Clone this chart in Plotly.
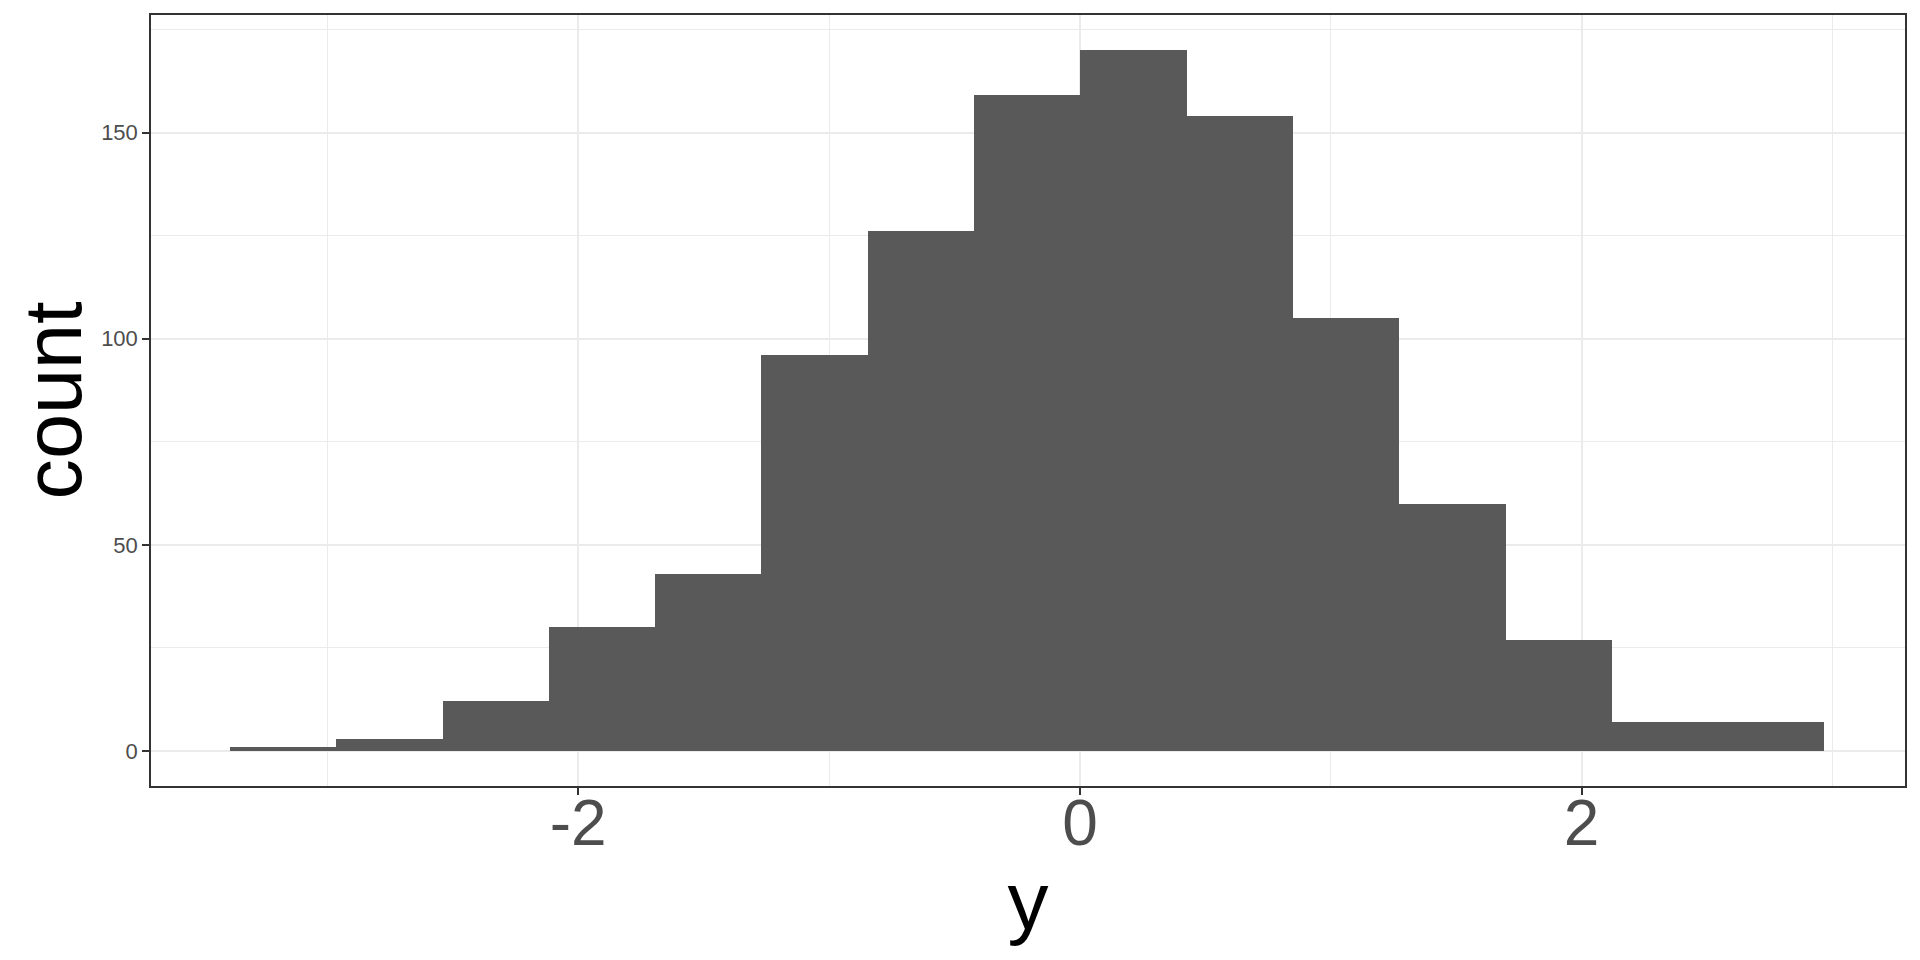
import plotly.graph_objects as go

# Histogram of y (15 bins)
bin_left_edges = [-3.388, -2.964, -2.541, -2.117, -1.693, -1.270, -0.846, -0.422,
                  0.002, 0.425, 0.849, 1.273, 1.696, 2.120, 2.544]
bin_width = 0.4237
counts = [1, 3, 12, 30, 43, 96, 126, 159, 170, 154, 105, 60, 27, 7, 7]

x_tick_vals = [-2, 0, 2]
x_tick_text = ["-2", "0", "2"]
y_tick_vals = [0, 50, 100, 150]
y_tick_text = ["0", "50", "100", "150"]

fig = go.Figure()
fig.add_trace(go.Bar(
    x=bin_left_edges,
    y=counts,
    width=[bin_width] * len(counts),
    offset=0,
    marker=dict(color="#595959", line=dict(width=0)),
    hoverinfo="x+y",
    showlegend=False,
))

font_family = "Liberation Sans, Arial, sans-serif"

fig.update_layout(
    width=1920,
    height=960,
    margin=dict(l=143, r=23, t=7, b=182),
    paper_bgcolor="white",
    plot_bgcolor="white",
    bargap=0,
    font=dict(family=font_family),
    xaxis=dict(
        range=[-3.703, 3.289],
        tickmode="array",
        tickvals=x_tick_vals,
        ticktext=x_tick_text,
        tickfont=dict(size=64, color="#4D4D4D", family=font_family),
        ticklabelstandoff=-27,
        ticks="outside",
        ticklen=7,
        tickwidth=1.5,
        tickcolor="#333333",
        showgrid=True,
        gridcolor="#EBEBEB",
        gridwidth=1.8,
        minor=dict(tickvals=[-3, -1, 1, 3], showgrid=True, gridcolor="#EBEBEB", gridwidth=1.0, ticks=""),
        showline=True,
        linecolor="#333333",
        linewidth=1.5,
        mirror=True,
        zeroline=False,
        title=dict(text="y", font=dict(size=82, color="black", family=font_family), standoff=14),
        automargin=False,
    ),
    yaxis=dict(
        range=[-8.5, 178.5],
        tickmode="array",
        tickvals=y_tick_vals,
        ticktext=y_tick_text,
        tickfont=dict(size=22, color="#4D4D4D", family=font_family),
        ticks="outside",
        ticklen=7,
        tickwidth=1.5,
        tickcolor="#333333",
        showgrid=True,
        gridcolor="#EBEBEB",
        gridwidth=1.8,
        minor=dict(tickvals=[25, 75, 125, 175], showgrid=True, gridcolor="#EBEBEB", gridwidth=1.0, ticks=""),
        showline=True,
        linecolor="#333333",
        linewidth=1.5,
        mirror=True,
        zeroline=False,
        title=dict(text="count", font=dict(size=81, color="black", family=font_family), standoff=17),
        automargin=False,
    ),
)

fig.write_html("out.html")
